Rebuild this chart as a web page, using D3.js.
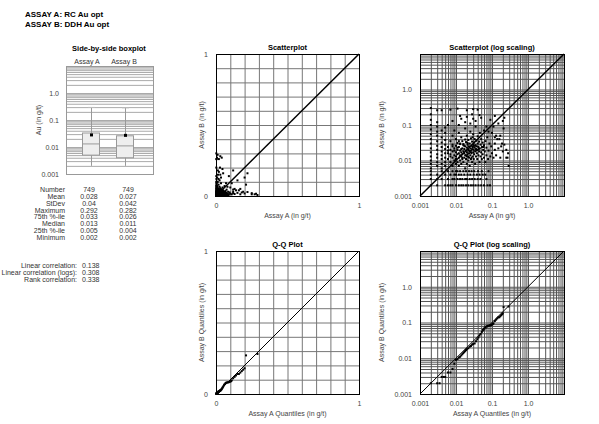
<!DOCTYPE html>
<meta charset="utf-8">
<script src="https://d3js.org/d3.v7.min.js"></script>
<body style="margin:0;background:#fff">
    <div id="chart"></div>
</body>
<script>

    // header and labels
    var headerLines = ["ASSAY A: RC Au opt", "ASSAY B: DDH Au opt"];
    var boxNames = ["Assay A", "Assay B"];

    // boxplot summary values
    var boxMin = [0.002, 0.002],
        boxQ1 = [0.005, 0.004],
        boxMedian = [0.013, 0.011],
        boxQ3 = [0.033, 0.026],
        boxMax = [0.292, 0.282],
        boxMean = [0.028, 0.027];

    // statistics table
    var statLabels = ["Number", "Mean", "StDev", "Maximum", "75th %-ile", "Median", "25th %-ile", "Minimum"];
    var statsA = ["749", "0.028", "0.04", "0.292", "0.033", "0.013", "0.005", "0.002"];
    var statsB = ["749", "0.027", "0.042", "0.282", "0.026", "0.011", "0.004", "0.002"];
    var corrLabels = ["Linear correlation:", "Linear correlation (logs):", "Rank correlation:"];
    var corrValues = ["0.138", "0.308", "0.338"];

    // tick labels
    var linTicks = [0, 1], linTickLabels = ["0", "1"];
    var logTicks = [0.001, 0.01, 0.1, 1], logTickLabels = ["0.001", "0.01", "0.1", "1.0"];

    // paired samples, Assay A and Assay B
    var assayA = [
        0.002, 0.003, 0.005, 0.006, 0.007, 0.008, 0.01, 0.012, 0.014, 0.016, 0.019, 0.022, 0.026, 0.03, 0.035, 0.042, 0.05, 0.06, 0.075, 0.088,
        0.002, 0.003, 0.004, 0.006, 0.008, 0.009, 0.011, 0.013, 0.015, 0.018, 0.02, 0.024, 0.028, 0.033, 0.04, 0.048, 0.07,
        0.002, 0.003, 0.005, 0.007, 0.009, 0.01, 0.012, 0.014, 0.017, 0.021, 0.025, 0.031, 0.038, 0.045, 0.055, 0.065,
        0.002, 0.004, 0.006, 0.008, 0.01, 0.011, 0.013, 0.016, 0.019, 0.023, 0.027, 0.032, 0.041, 0.052, 0.08,
        0.002, 0.002, 0.002, 0.002, 0.002, 0.002, 0.002, 0.002, 0.002, 0.002, 0.002, 0.002, 0.002, 0.002,
        0.003, 0.003, 0.003, 0.003, 0.003, 0.003, 0.003, 0.003, 0.003, 0.003, 0.003, 0.003,
        0.004, 0.004, 0.004, 0.004, 0.004, 0.004, 0.004, 0.004, 0.004, 0.004,
        0.005, 0.005, 0.005, 0.005, 0.005, 0.005, 0.005, 0.005, 0.005,
        0.006, 0.006, 0.006, 0.007, 0.007, 0.007, 0.007, 0.008, 0.008, 0.008, 0.008, 0.008,
        0.009, 0.009, 0.009, 0.009, 0.01, 0.01, 0.01, 0.01, 0.01, 0.01, 0.011, 0.011,
        0.011, 0.011, 0.012, 0.012, 0.012, 0.012, 0.012, 0.013, 0.013, 0.013, 0.013, 0.014,
        0.014, 0.014, 0.014, 0.015, 0.015, 0.015, 0.015, 0.016, 0.016, 0.016, 0.017, 0.017,
        0.017, 0.018, 0.018, 0.018, 0.018, 0.019, 0.019, 0.019, 0.02, 0.02, 0.02, 0.02,
        0.02, 0.021, 0.021, 0.022, 0.022, 0.022, 0.023, 0.023, 0.023, 0.024, 0.024, 0.024,
        0.025, 0.025, 0.025, 0.026, 0.026, 0.026, 0.027, 0.027, 0.028, 0.028, 0.028, 0.029,
        0.029, 0.03, 0.03, 0.03, 0.031, 0.031, 0.032, 0.032, 0.033, 0.033, 0.034, 0.034,
        0.035, 0.035, 0.036, 0.036, 0.037, 0.038, 0.038, 0.039, 0.04, 0.04, 0.04, 0.042,
        0.042, 0.044, 0.044, 0.045, 0.046, 0.046, 0.048, 0.048, 0.05, 0.05, 0.052, 0.053,
        0.055, 0.055, 0.057, 0.06, 0.06, 0.06, 0.063, 0.065, 0.066, 0.07, 0.07, 0.074,
        0.078, 0.08, 0.085, 0.09, 0.095, 0.1, 0.11, 0.12, 0.13, 0.15, 0.17, 0.2,
        0.21, 0.2, 0.22, 0.27, 0.28, 0.29, 0.12, 0.14, 0.18, 0.25, 0.25, 0.16,
        0.19, 0.17, 0.12, 0.22, 0.07, 0.1, 0.13, 0.08, 0.11, 0.09, 0.12, 0.15,
        0.013, 0.014, 0.02, 0.028, 0.03, 0.045, 0.05, 0.012, 0.018, 0.025, 0.035, 0.008,
        0.006, 0.02, 0.03, 0.04, 0.007, 0.011,
        0.007, 0.009, 0.011, 0.013, 0.015, 0.017, 0.019, 0.021, 0.023, 0.027, 0.031, 0.037,
        0.006, 0.008, 0.012, 0.014, 0.016, 0.018, 0.022, 0.026, 0.029, 0.034, 0.043, 0.058
    ];
    var assayB = [
        0.002, 0.002, 0.002, 0.002, 0.002, 0.002, 0.002, 0.002, 0.002, 0.002, 0.002, 0.002, 0.002, 0.002, 0.002, 0.002, 0.002, 0.002, 0.002, 0.002,
        0.003, 0.003, 0.003, 0.003, 0.003, 0.003, 0.003, 0.003, 0.003, 0.003, 0.003, 0.003, 0.003, 0.003, 0.003, 0.003, 0.003,
        0.004, 0.004, 0.004, 0.004, 0.004, 0.004, 0.004, 0.004, 0.004, 0.004, 0.004, 0.004, 0.004, 0.004, 0.004, 0.004,
        0.005, 0.005, 0.005, 0.005, 0.005, 0.005, 0.005, 0.005, 0.005, 0.005, 0.005, 0.005, 0.005, 0.005, 0.005,
        0.006, 0.008, 0.01, 0.013, 0.017, 0.022, 0.03, 0.04, 0.055, 0.075, 0.1, 0.14, 0.2, 0.3,
        0.007, 0.009, 0.012, 0.015, 0.02, 0.026, 0.035, 0.05, 0.065, 0.09, 0.12, 0.26,
        0.006, 0.008, 0.011, 0.014, 0.018, 0.024, 0.032, 0.045, 0.07, 0.26,
        0.007, 0.009, 0.012, 0.016, 0.021, 0.028, 0.038, 0.06, 0.085,
        0.011, 0.016, 0.024, 0.009, 0.013, 0.02, 0.035, 0.007, 0.012, 0.018, 0.028, 0.05,
        0.01, 0.014, 0.022, 0.07, 0.008, 0.011, 0.013, 0.017, 0.026, 0.04, 0.009, 0.015,
        0.02, 0.031, 0.007, 0.012, 0.016, 0.024, 0.06, 0.01, 0.014, 0.019, 0.03, 0.008,
        0.013, 0.017, 0.045, 0.011, 0.015, 0.022, 0.035, 0.009, 0.018, 0.027, 0.012, 0.016,
        0.021, 0.006, 0.014, 0.025, 0.08, 0.011, 0.019, 0.033, 0.008, 0.013, 0.017, 0.023,
        0.05, 0.015, 0.028, 0.01, 0.02, 0.038, 0.012, 0.016, 0.025, 0.007, 0.018, 0.03,
        0.014, 0.022, 0.065, 0.011, 0.019, 0.042, 0.016, 0.026, 0.009, 0.021, 0.034, 0.013,
        0.024, 0.017, 0.028, 0.055, 0.011, 0.02, 0.015, 0.032, 0.023, 0.04, 0.008, 0.018,
        0.027, 0.09, 0.013, 0.021, 0.036, 0.016, 0.025, 0.011, 0.02, 0.03, 0.048, 0.014,
        0.024, 0.018, 0.034, 0.009, 0.022, 0.06, 0.013, 0.028, 0.017, 0.04, 0.011, 0.024,
        0.015, 0.032, 0.02, 0.012, 0.027, 0.07, 0.018, 0.009, 0.035, 0.014, 0.023, 0.045,
        0.011, 0.019, 0.03, 0.013, 0.025, 0.016, 0.012, 0.02, 0.014, 0.022, 0.012, 0.018,
        0.08, 0.13, 0.16, 0.012, 0.016, 0.007, 0.03, 0.04, 0.025, 0.02, 0.012, 0.04,
        0.03, 0.05, 0.045, 0.028, 0.09, 0.06, 0.05, 0.065, 0.09, 0.14, 0.18, 0.11,
        0.18, 0.15, 0.17, 0.2, 0.15, 0.19, 0.16, 0.1, 0.12, 0.11, 0.13, 0.13,
        0.1, 0.26, 0.28, 0.27, 0.27, 0.29,
        0.015, 0.019, 0.023, 0.029, 0.012, 0.026, 0.014, 0.031, 0.019, 0.012, 0.026, 0.019,
        0.019, 0.025, 0.035, 0.021, 0.029, 0.039, 0.013, 0.017, 0.045, 0.026, 0.021, 0.024
    ];

    // matched quantiles for the Q-Q plots
    var quantA = [0.002, 0.003, 0.0035, 0.004, 0.0045, 0.005, 0.006, 0.007, 0.008, 0.009, 0.01, 0.011, 0.012, 0.013, 0.014,
        0.015, 0.016, 0.017, 0.018, 0.019, 0.02, 0.022, 0.024, 0.026, 0.028, 0.03, 0.033, 0.036, 0.039, 0.042, 0.045,
        0.048, 0.052, 0.056, 0.06, 0.065, 0.07, 0.075, 0.08, 0.085, 0.09, 0.095, 0.1, 0.105, 0.11, 0.12, 0.13, 0.14,
        0.15, 0.16, 0.17, 0.18, 0.19, 0.2, 0.21, 0.29];
    var quantB = [0.002, 0.002, 0.002, 0.003, 0.003, 0.003, 0.004, 0.004, 0.005, 0.007, 0.009, 0.0095, 0.0105, 0.011, 0.012,
        0.013, 0.014, 0.015, 0.016, 0.017, 0.018, 0.019, 0.021, 0.022, 0.024, 0.025, 0.026, 0.03, 0.034, 0.038, 0.043,
        0.048, 0.055, 0.062, 0.068, 0.074, 0.078, 0.08, 0.081, 0.082, 0.083, 0.085, 0.088, 0.09, 0.095, 0.11, 0.12, 0.13,
        0.14, 0.14, 0.15, 0.16, 0.17, 0.18, 0.27, 0.28];

    var font = "'Liberation Sans', Arial, sans-serif";

    var svg = d3.select("#chart")
        .append("svg")
        .attr("width", 599)
        .attr("height", 424)
        .style("font-family", font);

    svg.append("rect").attr("width", 599).attr("height", 424).attr("fill", "#fff");

    // header
    svg.selectAll(".hdr")
        .data(headerLines)
        .enter()
        .append("text")
        .attr("x", 25)
        .attr("y", function (d, i) { return 17 + i * 9.5; })
        .attr("font-size", 8)
        .attr("font-weight", "bold")
        .text(function (d) { return d; });

    // ---------- side-by-side boxplot ----------
    var bx0 = 66, bx1 = 153, by0 = 66, by1 = 174;
    var boxCenters = [91, 125], labelCenters = [87, 124], boxW = 17;
    var by = d3.scaleLog().domain([0.001, 10]).range([by1, by0]);

    svg.append("text").attr("x", 109).attr("y", 51)
        .attr("text-anchor", "middle").attr("font-size", 7.5).attr("font-weight", "bold")
        .text("Side-by-side boxplot");

    svg.selectAll(".bname")
        .data(boxNames)
        .enter()
        .append("text")
        .attr("x", function (d, i) { return labelCenters[i]; })
        .attr("y", 64)
        .attr("text-anchor", "middle")
        .attr("font-size", 7)
        .attr("fill", "#333")
        .text(function (d) { return d; });

    var bgrid = svg.append("g")
        .attr("transform", "translate(" + bx0 + ",0)")
        .call(d3.axisLeft(by).tickValues(by.ticks()).tickSize(-(bx1 - bx0)).tickFormat(""));
    bgrid.select(".domain").remove();
    bgrid.selectAll("line").attr("stroke", "#aaa");

    svg.append("rect")
        .attr("x", bx0 + 0.5).attr("y", by0 + 0.5)
        .attr("width", bx1 - bx0).attr("height", by1 - by0)
        .attr("fill", "none").attr("stroke", "#999");

    var byAxis = svg.append("g")
        .attr("transform", "translate(" + (bx0 - 7) + ",0)")
        .call(d3.axisLeft(by).tickValues(logTicks).tickSize(0)
            .tickFormat(function (d, i) { return logTickLabels[i]; }));
    byAxis.select(".domain").remove();
    byAxis.selectAll("text").attr("font-size", 7).attr("font-family", font).attr("fill", "#444").attr("x", 0);

    svg.append("text")
        .attr("transform", "translate(41," + ((by0 + by1) / 2) + ") rotate(-90)")
        .attr("text-anchor", "middle").attr("font-size", 7).attr("fill", "#444")
        .text("Au (in g/t)");

    var boxes = svg.selectAll(".box")
        .data(boxNames)
        .enter()
        .append("g");

    // whiskers, caps, box, median, mean
    boxes.append("line")
        .attr("x1", function (d, i) { return boxCenters[i] + 0.5; })
        .attr("x2", function (d, i) { return boxCenters[i] + 0.5; })
        .attr("y1", function (d, i) { return by(boxMax[i]); })
        .attr("y2", function (d, i) { return by(boxMin[i]); })
        .attr("stroke", "#999");
    boxes.append("line")
        .attr("x1", function (d, i) { return boxCenters[i] - 3; })
        .attr("x2", function (d, i) { return boxCenters[i] + 4; })
        .attr("y1", function (d, i) { return by(boxMax[i]); })
        .attr("y2", function (d, i) { return by(boxMax[i]); })
        .attr("stroke", "#bbb");
    boxes.append("rect")
        .attr("x", function (d, i) { return boxCenters[i] - boxW / 2; })
        .attr("width", boxW)
        .attr("y", function (d, i) { return by(boxQ3[i]); })
        .attr("height", function (d, i) { return by(boxQ1[i]) - by(boxQ3[i]); })
        .attr("fill", "#eeeeee")
        .attr("stroke", "#999");
    boxes.append("line")
        .attr("x1", function (d, i) { return boxCenters[i] - boxW / 2; })
        .attr("x2", function (d, i) { return boxCenters[i] + boxW / 2; })
        .attr("y1", function (d, i) { return by(boxMedian[i]); })
        .attr("y2", function (d, i) { return by(boxMedian[i]); })
        .attr("stroke", "#999");
    boxes.append("rect")
        .attr("x", function (d, i) { return boxCenters[i] - 1; })
        .attr("y", function (d, i) { return by(boxMean[i]) - 1.5; })
        .attr("width", 3).attr("height", 3)
        .attr("fill", "#000");

    // ---------- statistics table ----------
    var rowY = d3.scalePoint().domain(statLabels).range([190, 238]);
    svg.selectAll(".slab").data(statLabels).enter().append("text")
        .attr("x", 65).attr("y", function (d) { return rowY(d) + 2; })
        .attr("text-anchor", "end").attr("font-size", 7).attr("fill", "#333")
        .text(function (d) { return d; });
    svg.selectAll(".sa").data(statsA).enter().append("text")
        .attr("x", 89).attr("y", function (d, i) { return rowY(statLabels[i]) + 2; })
        .attr("text-anchor", "middle").attr("font-size", 7).attr("fill", "#333")
        .text(function (d) { return d; });
    svg.selectAll(".sb").data(statsB).enter().append("text")
        .attr("x", 128).attr("y", function (d, i) { return rowY(statLabels[i]) + 2; })
        .attr("text-anchor", "middle").attr("font-size", 7).attr("fill", "#333")
        .text(function (d) { return d; });

    var corrY = d3.scalePoint().domain(corrLabels).range([266, 280]);
    svg.selectAll(".clab").data(corrLabels).enter().append("text")
        .attr("x", 77).attr("y", function (d) { return corrY(d) + 2; })
        .attr("text-anchor", "end").attr("font-size", 7).attr("fill", "#333")
        .text(function (d) { return d; });
    svg.selectAll(".cval").data(corrValues).enter().append("text")
        .attr("x", 82).attr("y", function (d, i) { return corrY(corrLabels[i]) + 2; })
        .attr("font-size", 7).attr("fill", "#333")
        .text(function (d) { return d; });

    // ---------- scatter / Q-Q panels ----------
    function panel(o) {
        var x = o.log ? d3.scaleLog().domain([0.001, 10]) : d3.scaleLinear().domain([0, 1]);
        var y = o.log ? d3.scaleLog().domain([0.001, 10]) : d3.scaleLinear().domain([0, 1]);
        x.range([o.left, o.left + o.w]);
        y.range([o.top + o.h, o.top]);
        var gx = o.log ? x.ticks() : x.ticks(10);
        var gy = o.log ? y.ticks() : y.ticks(10);
        var gridColor = o.log ? "#555" : "#777";

        var g = svg.append("g");

        var vg = g.append("g")
            .attr("transform", "translate(0," + (o.top + o.h) + ")")
            .call(d3.axisBottom(x).tickValues(gx).tickSize(-o.h).tickFormat(""));
        vg.select(".domain").remove();
        vg.selectAll("line").attr("stroke", gridColor);

        var hg = g.append("g")
            .attr("transform", "translate(" + o.left + ",0)")
            .call(d3.axisLeft(y).tickValues(gy).tickSize(-o.w).tickFormat(""));
        hg.select(".domain").remove();
        hg.selectAll("line").attr("stroke", gridColor);

        g.append("rect")
            .attr("x", o.left + 0.5).attr("y", o.top + 0.5)
            .attr("width", o.w).attr("height", o.h)
            .attr("fill", "none").attr("stroke", "#000");

        var ticks = o.log ? logTicks : linTicks;
        var labels = o.log ? logTickLabels : linTickLabels;

        var xa = g.append("g")
            .attr("transform", "translate(0," + (o.top + o.h + 4) + ")")
            .call(d3.axisBottom(x).tickValues(ticks).tickSize(0)
                .tickFormat(function (d, i) { return labels[i]; }));
        xa.select(".domain").remove();
        xa.selectAll("text").attr("font-size", 7).attr("font-family", font).attr("fill", "#444");

        var ya = g.append("g")
            .attr("transform", "translate(" + (o.left - 5) + ",0)")
            .call(d3.axisLeft(y).tickValues(ticks).tickSize(0)
                .tickFormat(function (d, i) { return labels[i]; }));
        ya.select(".domain").remove();
        ya.selectAll("text").attr("font-size", 7).attr("font-family", font).attr("fill", "#444");

        g.append("text")
            .attr("x", o.left + o.w / 2).attr("y", o.top - 4)
            .attr("text-anchor", "middle").attr("font-size", 7.5).attr("font-weight", "bold")
            .text(o.title);
        g.append("text")
            .attr("x", o.left + o.w / 2).attr("y", o.top + o.h + 22)
            .attr("text-anchor", "middle").attr("font-size", 7).attr("fill", "#444")
            .text(o.xTitle);
        g.append("text")
            .attr("transform", "translate(" + (o.left - (o.log ? 36 : 12)) + "," + (o.top + o.h / 2) + ") rotate(-90)")
            .attr("text-anchor", "middle").attr("font-size", 7).attr("fill", "#444")
            .text(o.yTitle);

        // 1:1 line
        var dom = x.domain();
        g.append("line")
            .attr("x1", x(dom[0])).attr("y1", y(dom[0]))
            .attr("x2", x(dom[1])).attr("y2", y(dom[1]))
            .attr("stroke", "#000").attr("stroke-width", o.qq ? 1 : 1.5);

        g.append("g")
            .selectAll("rect")
            .data(o.a)
            .enter()
            .append("rect")
            .attr("x", function (d) { return x(d) - 1; })
            .attr("y", function (d, i) { return y(o.b[i]) - 1; })
            .attr("width", 2).attr("height", 2)
            .attr("fill", "#000");
    }

    panel({ left: 216, top: 54, w: 143, h: 142, log: false, a: assayA, b: assayB,
        title: "Scatterplot", xTitle: "Assay A (in g/t)", yTitle: "Assay B (in g/t)" });
    panel({ left: 420, top: 54, w: 144, h: 142, log: true, a: assayA, b: assayB,
        title: "Scatterplot (log scaling)", xTitle: "Assay A (in g/t)", yTitle: "Assay B (in g/t)" });
    panel({ left: 216, top: 251, w: 143, h: 143, log: false, qq: true, a: quantA, b: quantB,
        title: "Q-Q Plot", xTitle: "Assay A Quantiles (in g/t)", yTitle: "Assay B Quantiles (in g/t)" });
    panel({ left: 420, top: 251, w: 144, h: 143, log: true, qq: true, a: quantA, b: quantB,
        title: "Q-Q Plot (log scaling)", xTitle: "Assay A Quantiles (in g/t)", yTitle: "Assay B Quantiles (in g/t)" });

</script>
